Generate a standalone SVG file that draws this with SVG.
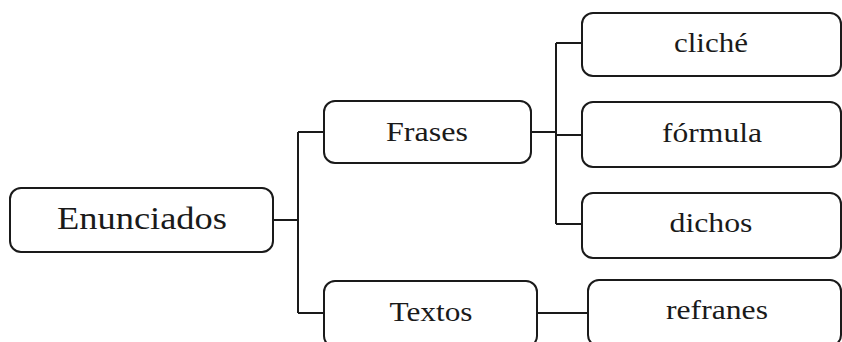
<svg xmlns="http://www.w3.org/2000/svg" width="842" height="342" viewBox="0 0 842 342">
<style>
.box{fill:#fff;stroke:#1a1a1a;stroke-width:2}
.lbl{font-family:"Liberation Serif","Times New Roman",serif;font-size:27px;fill:#1a1a1a;text-anchor:middle}
.big{font-size:31px}
.con{fill:none;stroke:#1a1a1a;stroke-width:2}
</style>
<rect width="842" height="342" fill="#fff"/>
<g id="connectors">
<path class="con" d="M273 220H298M298 132V313M298 132H324M298 313H324"/>
<path class="con" d="M531 132H556M556 43V224M556 43H582M556 135H582M556 224H582"/>
<path class="con" d="M537 313H588"/>
</g>
<g id="enunciados"><rect class="box" x="10" y="188" width="263" height="64" rx="11"/><text class="lbl big" x="142" y="229" textLength="170" lengthAdjust="spacingAndGlyphs">Enunciados</text></g>
<g id="frases"><rect class="box" x="324" y="101" width="207" height="62" rx="11"/><text class="lbl" x="427" y="141" textLength="82" lengthAdjust="spacingAndGlyphs">Frases</text></g>
<g id="textos"><rect class="box" x="324" y="281" width="213" height="66" rx="11"/><text class="lbl" x="431" y="321" textLength="83" lengthAdjust="spacingAndGlyphs">Textos</text></g>
<g id="cliche"><rect class="box" x="582" y="13" width="259" height="63" rx="11"/><text class="lbl" x="711" y="52" textLength="74" lengthAdjust="spacingAndGlyphs">cliché</text></g>
<g id="formula"><rect class="box" x="582" y="102" width="259" height="65" rx="11"/><text class="lbl" x="712" y="142" textLength="100" lengthAdjust="spacingAndGlyphs">fórmula</text></g>
<g id="dichos"><rect class="box" x="582" y="193" width="259" height="65" rx="11"/><text class="lbl" x="711" y="232" textLength="83" lengthAdjust="spacingAndGlyphs">dichos</text></g>
<g id="refranes"><rect class="box" x="588" y="280" width="253" height="66" rx="11"/><text class="lbl" x="717" y="319" textLength="102" lengthAdjust="spacingAndGlyphs">refranes</text></g>
</svg>
